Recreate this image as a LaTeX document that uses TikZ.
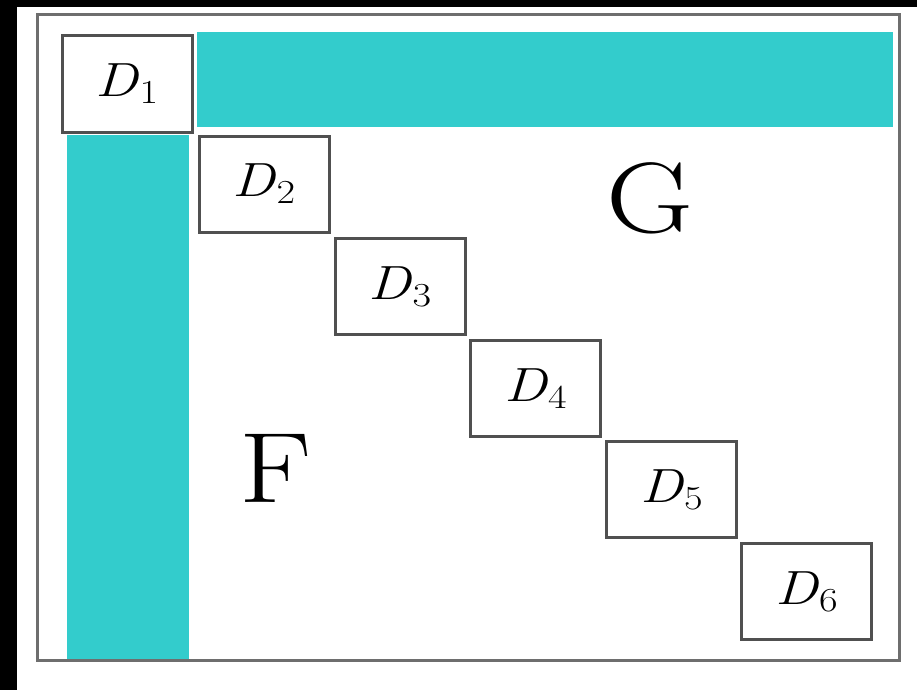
\documentclass[tikz,border=0pt]{standalone}
\usepackage{fontspec}
\setmainfont{Latin Modern Roman}
\definecolor{tealbar}{HTML}{33CCCC}
\definecolor{boxline}{HTML}{505050}
\definecolor{frameline}{HTML}{6E6E6E}
\tikzset{
  dbox/.style={draw=boxline, line width=3pt, fill=white, minimum width=130pt, minimum height=96pt, inner sep=0pt},
  bigtext/.style={inner sep=0pt},
}
\newcommand{\dlabel}[1]{\scalebox{1.2}[1]{\fontsize{48}{58}\selectfont\itshape D\kern1pt\raisebox{-7pt}{\upshape\fontsize{33.6}{40}\selectfont #1}}}
\newcommand{\biglabel}[1]{\scalebox{1.2}[1]{\fontsize{100}{120}\selectfont #1}}
\begin{document}
\begin{tikzpicture}[x=1pt,y=-1pt]
\useasboundingbox (0,0) rectangle (917,690);
\fill[black] (0,0) rectangle (917,690);
\fill[white] (17,7) rectangle (917,690);
\draw[frameline, line width=3pt] (37,15) rectangle (899,660);
\fill[tealbar] (197,32) rectangle (893,127);
\fill[tealbar] (67,135) rectangle (189,659);
\node[dbox] (d1) at (127,84) {\dlabel{1}};
\node[dbox] (d2) at (264,184) {\dlabel{2}};
\node[dbox] (d3) at (400,286.5) {\dlabel{3}};
\node[dbox] (d4) at (535.5,388.5) {\dlabel{4}};
\node[dbox] (d5) at (671.5,489.5) {\dlabel{5}};
\node[dbox] (d6) at (806.5,591.5) {\dlabel{6}};
\node[bigtext] (g) at (650,198) {\biglabel{G}};
\node[bigtext] (f) at (276,468) {\biglabel{F}};
\end{tikzpicture}
\end{document}
